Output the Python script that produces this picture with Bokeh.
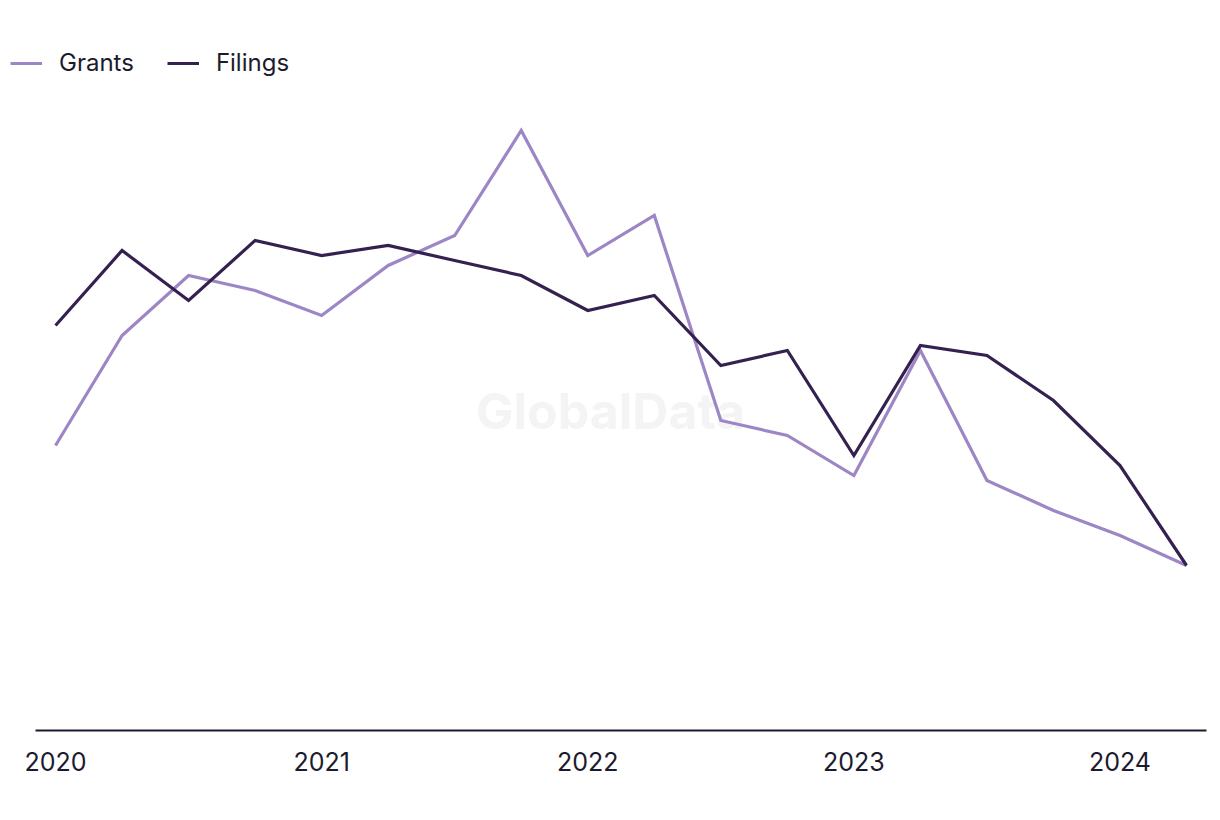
from bokeh.plotting import figure
from bokeh.models import Range1d, Legend, LegendItem, Label, FixedTicker
from bokeh.embed import file_html
from bokeh.resources import INLINE

quarters = list(range(18))
tick_positions = [0, 4, 8, 12, 16]
tick_labels = ["2020", "2021", "2022", "2023", "2024"]
grants = [57, 79, 91, 88, 83, 93, 99, 120, 95, 103, 62, 59, 51, 76, 50, 44, 39, 33]
filings = [81, 96, 86, 98, 95, 97, 94, 91, 84, 87, 73, 76, 55, 77, 75, 66, 53, 33]

FONT = "Inter"
TXT = "#1c1b2e"

p = figure(width=1212, height=808, output_backend="svg", toolbar_location=None,
           x_range=Range1d(-0.827, 17.30), y_range=Range1d(0, 142),
           min_border_left=0, min_border_right=6, min_border_top=20, min_border_bottom=78)
p.outline_line_color = None
p.grid.grid_line_color = None
p.yaxis.visible = False
p.background_fill_color = "white"

ax = p.xaxis[0]
ax.ticker = FixedTicker(ticks=tick_positions)
ax.bounds = (-0.30, 17.30)
ax.major_label_overrides = {t: l for t, l in zip(tick_positions, tick_labels)}
ax.major_tick_line_color = None
ax.minor_tick_line_color = None
ax.axis_line_color = TXT
ax.axis_line_width = 2
ax.major_label_text_font = FONT
ax.major_label_text_font_size = "25px"
ax.major_label_text_color = TXT
ax.major_label_standoff = 15

wm = Label(x=610, y=320, x_units="screen", y_units="screen", text="GlobalData",
           text_font=FONT, text_font_style="bold", text_font_size="50px",
           text_color="#f4f4f4", text_align="center", text_baseline="middle",
           level="underlay")
p.add_layout(wm)

r1 = p.line(quarters, grants, line_color="#9d86c6", line_width=3.2, line_join="miter")
r2 = p.line(quarters, filings, line_color="#35214f", line_width=3.2, line_join="miter")

legend = Legend(items=[LegendItem(label="Grants", renderers=[r1]),
                       LegendItem(label="Filings", renderers=[r2])],
                orientation="horizontal", location=(10, 653),
                label_text_font=FONT, label_text_font_size="24px", label_text_color=TXT,
                glyph_width=32, glyph_height=20, label_standoff=17, spacing=33,
                padding=0, margin=0, border_line_color=None, background_fill_alpha=0)
p.add_layout(legend, "center")

open("out.html", "w").write(file_html(p, INLINE))
